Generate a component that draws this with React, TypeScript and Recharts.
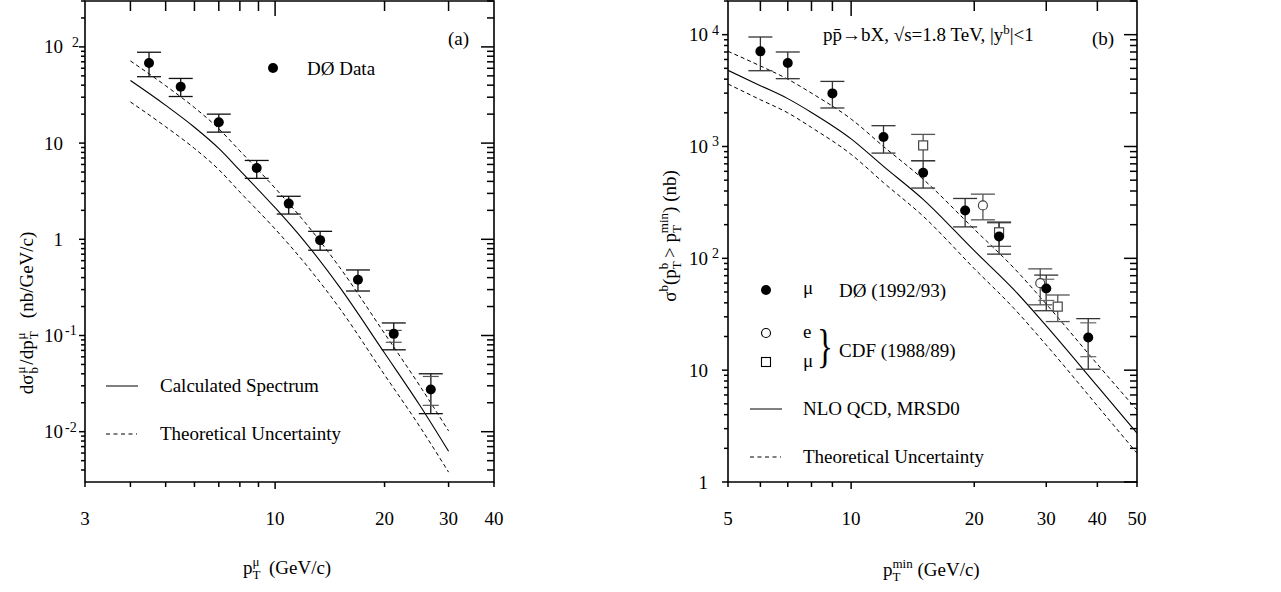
import React from "react";
import { ComposedChart, Line, Scatter, XAxis, YAxis, ErrorBar, ReferenceArea } from "recharts";

const SERIF = "'Liberation Serif', 'Times New Roman', Times, serif";

// ---- panel (a): d sigma / d pT of b -> mu ----
const muPt = [4.5, 5.5, 7.0, 8.9, 10.9, 13.3, 16.9, 21.2, 26.8];
const muSig = [68, 38.5, 16.5, 5.5, 2.35, 0.98, 0.38, 0.104, 0.0275];
const muSigLo = [49, 30.5, 13, 4.3, 1.83, 0.77, 0.29, 0.071, 0.0154];
const muSigHi = [88, 47, 20, 6.6, 2.8, 1.21, 0.48, 0.135, 0.04];
// inner bars, only visible on the last two points
const muStatPt = [21.2, 26.8];
const muStatSig = [0.104, 0.0275];
const muStatLo = [0.085, 0.0188];
const muStatHi = [0.113, 0.0375];

const curvePtA = [4, 5, 6, 7, 8, 10, 12, 15, 20, 25, 30];
const curveMidA = [44.7, 24.7, 14.6, 8.8, 5.2, 2.13, 0.97, 0.324, 0.0657, 0.0188, 0.00625];
const curveHiA = [71.5, 39.5, 23.4, 14.1, 8.3, 3.4, 1.55, 0.52, 0.105, 0.03, 0.0102];
const curveLoA = [26.8, 14.8, 8.8, 5.3, 3.1, 1.28, 0.58, 0.195, 0.039, 0.0113, 0.0038];

const xTicksA = [3, 4, 5, 6, 7, 8, 9, 10, 20, 30, 40];
const xLabelsA = [3, 10, 20, 30, 40];
const yTicksA = [
  0.004, 0.005, 0.006, 0.007, 0.008, 0.009, 0.01,
  0.02, 0.03, 0.04, 0.05, 0.06, 0.07, 0.08, 0.09, 0.1,
  0.2, 0.3, 0.4, 0.5, 0.6, 0.7, 0.8, 0.9, 1,
  2, 3, 4, 5, 6, 7, 8, 9, 10,
  20, 30, 40, 50, 60, 70, 80, 90, 100, 200, 300,
];
const yMajorA = [0.01, 0.1, 1, 10, 100];

// ---- panel (b): integrated b cross section ----
const d0Pt = [6, 7, 9, 12, 15, 19, 23, 30, 38];
const d0Sig = [7090, 5580, 2985, 1215, 582, 268, 157, 53.7, 19.6];
const d0Lo = [4760, 4040, 2210, 873, 425, 191, 109, 34, 10.2];
const d0Hi = [9530, 7000, 3820, 1535, 746, 343, 211, 70.8, 28.9];
const d0StatPt = [30, 38];
const d0StatSig = [53.7, 19.6];
const d0StatLo = [42, 13.2];
const d0StatHi = [65, 26.5];

const cdfEPt = [21, 29];
const cdfESig = [297, 60];
const cdfELo = [221, 38.4];
const cdfEHi = [375, 80.5];

const cdfMuPt = [15, 23, 32];
const cdfMuSig = [1023, 171, 37];
const cdfMuLo = [746, 128, 27.2];
const cdfMuHi = [1283, 208, 47];

const curvePtB = [5, 6, 7, 8, 10, 12, 15, 20, 25, 30, 40, 50];
const curveMidB = [4800, 3500, 2680, 2015, 1170, 664, 337, 117, 52.5, 24.9, 7.2, 2.73];
const curveHiB = [7100, 5250, 4000, 3000, 1760, 1000, 510, 182, 82, 39, 11.3, 4.4];
const curveLoB = [3620, 2620, 2000, 1480, 850, 475, 238, 81, 35.7, 16.8, 4.8, 1.81];

const xTicksB = [5, 6, 7, 8, 9, 10, 20, 30, 40, 50];
const xLabelsB = [5, 10, 20, 30, 40, 50];
const yTicksB = [
  1, 2, 3, 4, 5, 6, 7, 8, 9, 10,
  20, 30, 40, 50, 60, 70, 80, 90, 100,
  200, 300, 400, 500, 600, 700, 800, 900, 1000,
  2000, 3000, 4000, 5000, 6000, 7000, 8000, 9000, 10000, 20000,
];
const yMajorB = [1, 10, 100, 1000, 10000];

const points = (xs: number[], ys: number[], lo: number[], hi: number[]) =>
  xs.map((x, i) => ({ x, y: ys[i], err: [ys[i] - lo[i], hi[i] - ys[i]] }));

const curves = (xs: number[], mid: number[], hi: number[], lo: number[]) =>
  xs.map((x, i) => ({ x, mid: mid[i], hi: hi[i], lo: lo[i] }));

const PLOT_W = 409;
const PLOT_H = 481;
const TK = 1.5;

function xTick(p: any, labels: number[], majors: number[], edges: number[]) {
  const v = p.payload.value;
  const major = majors.includes(v);
  return (
    <g>
      <line x1={p.x} x2={p.x} y1={p.y} y2={p.y + (major ? 7 : 5)} stroke="#000" strokeWidth={TK} />
      {!edges.includes(v) && (
        <line x1={p.x} x2={p.x} y1={p.y - PLOT_H} y2={p.y - PLOT_H + (major ? 15 : 10)} stroke="#000" strokeWidth={TK} />
      )}
      {labels.includes(v) && (
        <text x={p.x} y={p.y + 43} textAnchor="middle" fontFamily={SERIF} fontSize={19} fill="#000">
          {v}
        </text>
      )}
    </g>
  );
}

function yTick(p: any, majors: number[], baseGap: number, expPos: number, expNeg: number) {
  const v = p.payload.value;
  const major = majors.includes(v);
  const e = Math.round(Math.log10(v));
  const plain = v === 1 || v === 10;
  return (
    <g>
      <line x1={p.x} x2={p.x - (major ? 6 : 4)} y1={p.y} y2={p.y} stroke="#000" strokeWidth={TK} />
      <line x1={p.x + PLOT_W} x2={p.x + PLOT_W - (major ? 13 : 7)} y1={p.y} y2={p.y} stroke="#000" strokeWidth={TK} />
      {major && (
        <text x={p.x - baseGap} y={p.y + 6.5} textAnchor="end" fontFamily={SERIF} fontSize={19} fill="#000">
          {plain ? String(v) : "10"}
        </text>
      )}
      {major && !plain && (
        <text x={p.x - (e < 0 ? expNeg : expPos)} y={p.y} textAnchor="start" fontFamily={SERIF} fontSize={14} fill="#000">
          {String(e)}
        </text>
      )}
    </g>
  );
}

const dot = (p: any) => <circle cx={p.cx} cy={p.cy} r={5} fill="#000" />;
const openCircle = (p: any) => <circle cx={p.cx} cy={p.cy} r={4.5} fill="#fff" stroke="#444" strokeWidth={1.2} />;
const openSquare = (p: any) => (
  <rect x={p.cx - 4.5} y={p.cy - 4.5} width={9} height={9} fill="#fff" stroke="#444" strokeWidth={1.2} />
);
const nothing = () => <g />;

function PanelA() {
  const data = points(muPt, muSig, muSigLo, muSigHi);
  const stat = points(muStatPt, muStatSig, muStatLo, muStatHi);
  const cur = curves(curvePtA, curveMidA, curveHiA, curveLoA);
  return (
    <ComposedChart width={640} height={592} margin={{ top: 1, right: 146, bottom: 109, left: 84 }}>
      <XAxis
        dataKey="x" type="number" scale="log" domain={[3, 40]} allowDataOverflow
        ticks={xTicksA} interval={0} height={1} tickSize={0} tickMargin={0}
        axisLine={false} tickLine={false}
        tick={(p: any) => xTick(p, xLabelsA, [10], [3, 40])}
      />
      <YAxis
        type="number" scale="log" domain={[0.003, 300]} allowDataOverflow
        ticks={yTicksA} interval={0} width={1} tickSize={0} tickMargin={0}
        axisLine={false} tickLine={false}
        tick={(p: any) => yTick(p, yMajorA, 22, 13, 20)}
      />
      <ReferenceArea x1={3} x2={40} y1={0.003} y2={300} fill="none" stroke="#000" strokeWidth={1.6} ifOverflow="visible" />
      <Line data={cur} dataKey="hi" type="monotone" dot={false} stroke="#000" strokeWidth={1} strokeDasharray="4 3" isAnimationActive={false} />
      <Line data={cur} dataKey="mid" type="monotone" dot={false} stroke="#000" strokeWidth={1.1} isAnimationActive={false} />
      <Line data={cur} dataKey="lo" type="monotone" dot={false} stroke="#000" strokeWidth={1} strokeDasharray="4 3" isAnimationActive={false} />
      <Scatter data={data} dataKey="y" shape={dot} isAnimationActive={false}>
        <ErrorBar dataKey="err" direction="y" width={12} stroke="#111" strokeWidth={1.3} />
      </Scatter>
      <Scatter data={stat} dataKey="y" shape={nothing} isAnimationActive={false}>
        <ErrorBar dataKey="err" direction="y" width={8} stroke="#555" strokeWidth={1.2} />
      </Scatter>
    </ComposedChart>
  );
}

function PanelB() {
  const d0 = points(d0Pt, d0Sig, d0Lo, d0Hi);
  const d0s = points(d0StatPt, d0StatSig, d0StatLo, d0StatHi);
  const cdfE = points(cdfEPt, cdfESig, cdfELo, cdfEHi);
  const cdfMu = points(cdfMuPt, cdfMuSig, cdfMuLo, cdfMuHi);
  const cur = curves(curvePtB, curveMidB, curveHiB, curveLoB);
  return (
    <ComposedChart width={641} height={592} margin={{ top: 1, right: 144, bottom: 109, left: 87 }}>
      <XAxis
        dataKey="x" type="number" scale="log" domain={[5, 50]} allowDataOverflow
        ticks={xTicksB} interval={0} height={1} tickSize={0} tickMargin={0}
        axisLine={false} tickLine={false}
        tick={(p: any) => xTick(p, xLabelsB, [10], [5, 50])}
      />
      <YAxis
        type="number" scale="log" domain={[1, 20000]} allowDataOverflow
        ticks={yTicksB} interval={0} width={1} tickSize={0} tickMargin={0}
        axisLine={false} tickLine={false}
        tick={(p: any) => yTick(p, yMajorB, 20, 16, 20)}
      />
      <ReferenceArea x1={5} x2={50} y1={1} y2={20000} fill="none" stroke="#000" strokeWidth={1.6} ifOverflow="visible" />
      <Line data={cur} dataKey="hi" type="monotone" dot={false} stroke="#000" strokeWidth={1} strokeDasharray="4 3" isAnimationActive={false} />
      <Line data={cur} dataKey="mid" type="monotone" dot={false} stroke="#000" strokeWidth={1.1} isAnimationActive={false} />
      <Line data={cur} dataKey="lo" type="monotone" dot={false} stroke="#000" strokeWidth={1} strokeDasharray="4 3" isAnimationActive={false} />
      <Scatter data={cdfMu} dataKey="y" shape={openSquare} isAnimationActive={false}>
        <ErrorBar dataKey="err" direction="y" width={12} stroke="#555" strokeWidth={1.3} />
      </Scatter>
      <Scatter data={cdfE} dataKey="y" shape={openCircle} isAnimationActive={false}>
        <ErrorBar dataKey="err" direction="y" width={12} stroke="#555" strokeWidth={1.3} />
      </Scatter>
      <Scatter data={d0} dataKey="y" shape={dot} isAnimationActive={false}>
        <ErrorBar dataKey="err" direction="y" width={12} stroke="#333" strokeWidth={1.3} />
      </Scatter>
      <Scatter data={d0s} dataKey="y" shape={nothing} isAnimationActive={false}>
        <ErrorBar dataKey="err" direction="y" width={8} stroke="#666" strokeWidth={1.2} />
      </Scatter>
    </ComposedChart>
  );
}

function Overlay() {
  const t = { fontFamily: SERIF, fontSize: 19, fill: "#000" } as const;
  const s = 13;
  return (
    <svg width={1281} height={592} style={{ position: "absolute", left: 0, top: 0, pointerEvents: "none" }}>
      {/* panel (a) */}
      <text x={448} y={45} {...t}>(a)</text>
      <circle cx={273} cy={68} r={5} fill="#000" />
      <text x={307} y={75} {...t}>DØ Data</text>
      <line x1={106} x2={138} y1={386} y2={386} stroke="#000" />
      <text x={160} y={392} {...t}>Calculated Spectrum</text>
      <line x1={106} x2={137} y1={434} y2={434} stroke="#000" strokeDasharray="4 3.5" />
      <text x={160} y={440} {...t}>Theoretical Uncertainty</text>
      <text x={243} y={574} {...t} style={{ whiteSpace: "pre" }}>
        p<tspan fontSize={s} dy={5}>T</tspan>
        <tspan fontSize={s} dx={-8} dy={-13}>μ</tspan>
        <tspan dy={8}>{"  (GeV/c)"}</tspan>
      </text>
      <text transform="translate(33,313) rotate(-90)" textAnchor="middle" {...t} style={{ whiteSpace: "pre" }}>
        dσ<tspan fontSize={s} dx={1} dy={5}>b</tspan>
        <tspan fontSize={s} dx={-6.5} dy={-13}>μ</tspan>
        <tspan dx={2} dy={8}>/dp</tspan>
        <tspan fontSize={s} dx={1} dy={5}>T</tspan>
        <tspan fontSize={s} dx={-8} dy={-13}>μ</tspan>
        <tspan dy={8}>{"   (nb/GeV/c)"}</tspan>
      </text>

      {/* panel (b) */}
      <text x={823} y={41} {...t}>
        pp̄→bX, √s=1.8 TeV, |y<tspan fontSize={s} dy={-7}>b</tspan>
        <tspan dy={7}>|&lt;1</tspan>
      </text>
      <text x={1092} y={45} {...t}>(b)</text>
      <circle cx={766} cy={290} r={5} fill="#000" />
      <text x={803} y={294} {...t}>μ</text>
      <text x={839} y={297} {...t}>DØ (1992/93)</text>
      <circle cx={766} cy={333} r={4.5} fill="none" stroke="#000" strokeWidth={1.1} />
      <text x={803} y={338} {...t}>e</text>
      <rect x={761.5} y={357.5} width={9} height={9} fill="none" stroke="#000" strokeWidth={1.1} />
      <text x={803} y={367} {...t}>μ</text>
      <text x={0} y={0} transform="translate(817,362) scale(0.72,1)" fontFamily={SERIF} fontSize={46} fill="#000">{"}"}</text>
      <text x={839} y={357} {...t}>CDF (1988/89)</text>
      <line x1={750} x2={782} y1={409} y2={409} stroke="#000" />
      <text x={803} y={415} {...t}>NLO QCD, MRSD0</text>
      <line x1={750} x2={781} y1={457} y2={457} stroke="#000" strokeDasharray="4 3.5" />
      <text x={803} y={463} {...t}>Theoretical Uncertainty</text>
      <text x={883} y={576} {...t} style={{ whiteSpace: "pre" }}>
        p<tspan fontSize={s} dy={5}>T</tspan>
        <tspan fontSize={s} dx={-8} dy={-13}>min</tspan>
        <tspan dy={8}>{" (GeV/c)"}</tspan>
      </text>
      <text transform="translate(676,236) rotate(-90)" textAnchor="middle" {...t} style={{ whiteSpace: "pre" }}>
        σ<tspan fontSize={s} dy={-8}>b</tspan>
        <tspan dy={8}>(p</tspan>
        <tspan fontSize={s} dy={5}>T</tspan>
        <tspan fontSize={s} dx={-8} dy={-13}>b</tspan>
        <tspan dy={8}>{" > p"}</tspan>
        <tspan fontSize={s} dy={5}>T</tspan>
        <tspan fontSize={s} dx={-8} dy={-13}>min</tspan>
        <tspan dy={8}>{") (nb)"}</tspan>
      </text>
    </svg>
  );
}

export default function App() {
  return (
    <div style={{ position: "absolute", left: 0, top: 0, width: 1281, height: 592, background: "#fff" }}>
      <div style={{ position: "absolute", left: 0, top: 0 }}>
        <PanelA />
      </div>
      <div style={{ position: "absolute", left: 640, top: 0 }}>
        <PanelB />
      </div>
      <Overlay />
    </div>
  );
}
